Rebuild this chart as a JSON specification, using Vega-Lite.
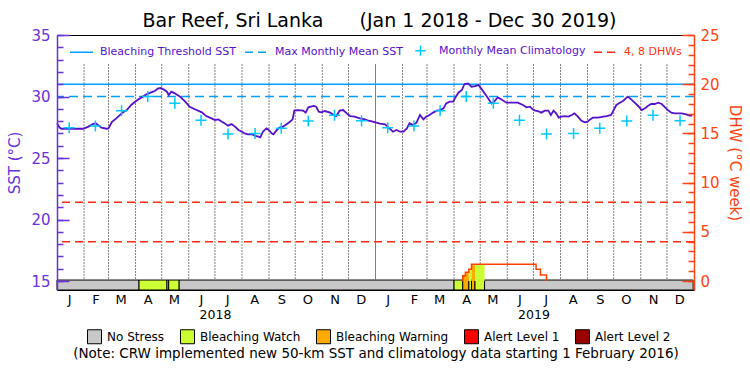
{
  "$schema": "https://vega.github.io/schema/vega-lite/v6.json",
  "width": 637,
  "height": 255,
  "autosize": "none",
  "padding": {"left": 57, "top": 35, "right": 56, "bottom": 85},
  "background": "white",
  "title": {
    "text": "Bar Reef, Sri Lanka\u00a0\u00a0\u00a0\u00a0\u00a0\u00a0(Jan 1 2018 - Dec 30 2019)",
    "font": "DejaVu Sans", "fontSize": 19, "fontWeight": "normal", "color": "black",
    "anchor": "middle", "offset": -3, "dx": 4
  },
  "config": {
    "font": "DejaVu Sans",
    "view": {"stroke": "black", "strokeWidth": 1},
    "axis": {"grid": false, "labelFont": "DejaVu Sans", "titleFont": "DejaVu Sans", "titleFontWeight": "normal", "labelOverlap": false},
    "axisX": {"labelOverlap": false, "labelFlush": false},
    "legend": {"labelFont": "DejaVu Sans"}
  },
  "datasets": {
    "sst": [
      {"date": "2018-01-01", "sst": 27.82}, {"date": "2018-01-04", "sst": 27.47}, {"date": "2018-01-06", "sst": 27.38},
      {"date": "2018-01-31", "sst": 27.38}, {"date": "2018-02-06", "sst": 27.55}, {"date": "2018-02-12", "sst": 27.79},
      {"date": "2018-02-15", "sst": 27.79}, {"date": "2018-02-21", "sst": 27.47}, {"date": "2018-02-27", "sst": 27.38},
      {"date": "2018-03-01", "sst": 27.40}, {"date": "2018-03-05", "sst": 27.95}, {"date": "2018-03-10", "sst": 28.22},
      {"date": "2018-03-16", "sst": 28.63}, {"date": "2018-03-22", "sst": 28.90}, {"date": "2018-03-27", "sst": 29.31},
      {"date": "2018-04-02", "sst": 29.66}, {"date": "2018-04-08", "sst": 29.93}, {"date": "2018-04-14", "sst": 30.20},
      {"date": "2018-04-19", "sst": 30.34}, {"date": "2018-04-23", "sst": 30.45}, {"date": "2018-04-27", "sst": 30.66},
      {"date": "2018-04-30", "sst": 30.69}, {"date": "2018-05-03", "sst": 30.58}, {"date": "2018-05-07", "sst": 30.39},
      {"date": "2018-05-09", "sst": 30.12}, {"date": "2018-05-12", "sst": 30.39}, {"date": "2018-05-16", "sst": 30.26},
      {"date": "2018-05-22", "sst": 29.99}, {"date": "2018-05-28", "sst": 29.58}, {"date": "2018-06-02", "sst": 29.17},
      {"date": "2018-06-08", "sst": 28.96}, {"date": "2018-06-16", "sst": 28.71}, {"date": "2018-06-21", "sst": 28.41},
      {"date": "2018-06-27", "sst": 28.22}, {"date": "2018-07-01", "sst": 28.09}, {"date": "2018-07-05", "sst": 28.14},
      {"date": "2018-07-09", "sst": 27.95}, {"date": "2018-07-12", "sst": 27.82}, {"date": "2018-07-16", "sst": 27.63},
      {"date": "2018-07-20", "sst": 27.76}, {"date": "2018-07-24", "sst": 27.55}, {"date": "2018-07-28", "sst": 27.28},
      {"date": "2018-08-01", "sst": 27.14}, {"date": "2018-08-04", "sst": 27.00}, {"date": "2018-08-08", "sst": 26.92},
      {"date": "2018-08-12", "sst": 26.95}, {"date": "2018-08-16", "sst": 26.79}, {"date": "2018-08-20", "sst": 26.73},
      {"date": "2018-08-22", "sst": 26.68}, {"date": "2018-08-25", "sst": 27.14}, {"date": "2018-08-29", "sst": 27.41},
      {"date": "2018-08-31", "sst": 27.33}, {"date": "2018-09-04", "sst": 27.00}, {"date": "2018-09-06", "sst": 26.92},
      {"date": "2018-09-10", "sst": 27.28}, {"date": "2018-09-13", "sst": 27.47}, {"date": "2018-09-17", "sst": 27.55},
      {"date": "2018-09-21", "sst": 27.74}, {"date": "2018-09-25", "sst": 27.95}, {"date": "2018-09-28", "sst": 28.14},
      {"date": "2018-09-30", "sst": 28.85}, {"date": "2018-10-04", "sst": 28.90}, {"date": "2018-10-10", "sst": 28.85},
      {"date": "2018-10-13", "sst": 28.69}, {"date": "2018-10-16", "sst": 29.12}, {"date": "2018-10-22", "sst": 29.23},
      {"date": "2018-10-25", "sst": 29.17}, {"date": "2018-10-28", "sst": 28.77}, {"date": "2018-10-31", "sst": 28.71},
      {"date": "2018-11-04", "sst": 28.82}, {"date": "2018-11-10", "sst": 28.69}, {"date": "2018-11-14", "sst": 28.50},
      {"date": "2018-11-17", "sst": 28.41}, {"date": "2018-11-21", "sst": 28.85}, {"date": "2018-11-25", "sst": 28.90},
      {"date": "2018-11-29", "sst": 28.63}, {"date": "2018-12-03", "sst": 28.41}, {"date": "2018-12-08", "sst": 28.36},
      {"date": "2018-12-14", "sst": 28.22}, {"date": "2018-12-20", "sst": 28.14}, {"date": "2018-12-24", "sst": 28.03},
      {"date": "2018-12-29", "sst": 27.95}, {"date": "2019-01-02", "sst": 27.87}, {"date": "2019-01-06", "sst": 27.80},
      {"date": "2019-01-12", "sst": 27.74}, {"date": "2019-01-17", "sst": 27.41}, {"date": "2019-01-21", "sst": 27.14},
      {"date": "2019-01-25", "sst": 27.28}, {"date": "2019-01-29", "sst": 27.14}, {"date": "2019-02-02", "sst": 27.14},
      {"date": "2019-02-06", "sst": 27.41}, {"date": "2019-02-09", "sst": 27.82}, {"date": "2019-02-13", "sst": 27.68},
      {"date": "2019-02-17", "sst": 27.87}, {"date": "2019-02-21", "sst": 28.50}, {"date": "2019-02-25", "sst": 28.14},
      {"date": "2019-02-28", "sst": 28.36}, {"date": "2019-03-04", "sst": 28.50}, {"date": "2019-03-08", "sst": 28.69},
      {"date": "2019-03-12", "sst": 28.85}, {"date": "2019-03-16", "sst": 28.90}, {"date": "2019-03-20", "sst": 29.04},
      {"date": "2019-03-23", "sst": 29.44}, {"date": "2019-03-27", "sst": 29.58}, {"date": "2019-03-31", "sst": 29.58},
      {"date": "2019-04-02", "sst": 29.85}, {"date": "2019-04-06", "sst": 30.31}, {"date": "2019-04-10", "sst": 30.53},
      {"date": "2019-04-13", "sst": 31.02}, {"date": "2019-04-17", "sst": 31.07}, {"date": "2019-04-21", "sst": 30.80},
      {"date": "2019-04-25", "sst": 30.85}, {"date": "2019-04-29", "sst": 30.93}, {"date": "2019-05-02", "sst": 30.66},
      {"date": "2019-05-06", "sst": 30.26}, {"date": "2019-05-10", "sst": 29.85}, {"date": "2019-05-14", "sst": 29.44},
      {"date": "2019-05-17", "sst": 29.58}, {"date": "2019-05-21", "sst": 29.93}, {"date": "2019-05-25", "sst": 29.77},
      {"date": "2019-05-31", "sst": 29.50}, {"date": "2019-06-06", "sst": 29.50}, {"date": "2019-06-13", "sst": 29.50},
      {"date": "2019-06-19", "sst": 29.31}, {"date": "2019-06-23", "sst": 29.12}, {"date": "2019-06-27", "sst": 29.17},
      {"date": "2019-06-30", "sst": 28.96}, {"date": "2019-07-03", "sst": 28.85}, {"date": "2019-07-06", "sst": 28.82},
      {"date": "2019-07-10", "sst": 28.69}, {"date": "2019-07-14", "sst": 28.85}, {"date": "2019-07-18", "sst": 28.85},
      {"date": "2019-07-21", "sst": 28.50}, {"date": "2019-07-24", "sst": 28.85}, {"date": "2019-07-27", "sst": 28.63},
      {"date": "2019-07-30", "sst": 28.28}, {"date": "2019-08-02", "sst": 28.36}, {"date": "2019-08-06", "sst": 28.41},
      {"date": "2019-08-10", "sst": 28.36}, {"date": "2019-08-14", "sst": 28.50}, {"date": "2019-08-17", "sst": 28.63},
      {"date": "2019-08-21", "sst": 28.36}, {"date": "2019-08-25", "sst": 28.03}, {"date": "2019-08-29", "sst": 27.90},
      {"date": "2019-09-01", "sst": 27.95}, {"date": "2019-09-04", "sst": 28.14}, {"date": "2019-09-07", "sst": 28.28},
      {"date": "2019-09-13", "sst": 28.28}, {"date": "2019-09-19", "sst": 28.36}, {"date": "2019-09-23", "sst": 28.41},
      {"date": "2019-09-28", "sst": 28.50}, {"date": "2019-09-30", "sst": 28.77}, {"date": "2019-10-04", "sst": 29.31},
      {"date": "2019-10-08", "sst": 29.50}, {"date": "2019-10-12", "sst": 29.66}, {"date": "2019-10-17", "sst": 29.99},
      {"date": "2019-10-21", "sst": 29.77}, {"date": "2019-10-25", "sst": 29.50}, {"date": "2019-10-29", "sst": 29.23},
      {"date": "2019-11-02", "sst": 28.90}, {"date": "2019-11-06", "sst": 29.04}, {"date": "2019-11-09", "sst": 29.23},
      {"date": "2019-11-13", "sst": 29.39}, {"date": "2019-11-17", "sst": 29.39}, {"date": "2019-11-21", "sst": 29.50},
      {"date": "2019-11-25", "sst": 29.39}, {"date": "2019-11-28", "sst": 29.17}, {"date": "2019-12-02", "sst": 28.90},
      {"date": "2019-12-06", "sst": 28.69}, {"date": "2019-12-10", "sst": 28.63}, {"date": "2019-12-18", "sst": 28.63},
      {"date": "2019-12-23", "sst": 28.55}, {"date": "2019-12-27", "sst": 28.44}, {"date": "2019-12-30", "sst": 28.44}
    ],
    "clim": [
      {"date": "2018-01-15", "sst": 27.45}, {"date": "2018-02-14", "sst": 27.60}, {"date": "2018-03-16", "sst": 28.85},
      {"date": "2018-04-15", "sst": 30.00}, {"date": "2018-05-16", "sst": 29.45}, {"date": "2018-06-15", "sst": 28.07},
      {"date": "2018-07-16", "sst": 26.95}, {"date": "2018-08-16", "sst": 27.00}, {"date": "2018-09-15", "sst": 27.41},
      {"date": "2018-10-16", "sst": 28.00}, {"date": "2018-11-15", "sst": 28.47}, {"date": "2018-12-16", "sst": 28.02},
      {"date": "2019-01-15", "sst": 27.45}, {"date": "2019-02-14", "sst": 27.60}, {"date": "2019-03-16", "sst": 28.85},
      {"date": "2019-04-15", "sst": 30.00}, {"date": "2019-05-16", "sst": 29.45}, {"date": "2019-06-15", "sst": 28.07},
      {"date": "2019-07-16", "sst": 26.95}, {"date": "2019-08-16", "sst": 27.00}, {"date": "2019-09-15", "sst": 27.41},
      {"date": "2019-10-16", "sst": 28.00}, {"date": "2019-11-15", "sst": 28.47}, {"date": "2019-12-16", "sst": 28.02}
    ],
    "thresholds": [
      {"series": "Bleaching Threshold SST", "sst": 31.0},
      {"series": "Max Monthly Mean SST", "sst": 30.0}
    ],
    "dhwlines": [
      {"series": "4, 8 DHWs", "dhw": 4},
      {"series": "4, 8 DHWs", "dhw": 8}
    ],
    "months": [
      {"date": "2018-02-01"}, {"date": "2018-03-01"}, {"date": "2018-04-01"}, {"date": "2018-05-01"},
      {"date": "2018-06-01"}, {"date": "2018-07-01"}, {"date": "2018-08-01"}, {"date": "2018-09-01"},
      {"date": "2018-10-01"}, {"date": "2018-11-01"}, {"date": "2018-12-01"},
      {"date": "2019-02-01"}, {"date": "2019-03-01"}, {"date": "2019-04-01"}, {"date": "2019-05-01"},
      {"date": "2019-06-01"}, {"date": "2019-07-01"}, {"date": "2019-08-01"}, {"date": "2019-09-01"},
      {"date": "2019-10-01"}, {"date": "2019-11-01"}, {"date": "2019-12-01"}
    ],
    "years": [{"date": "2019-01-01"}],
    "status": [
      {"start": "2018-01-01", "end": "2018-04-05", "status": "No Stress"},
      {"start": "2018-04-05", "end": "2018-05-07", "status": "Bleaching Watch"},
      {"start": "2018-05-07", "end": "2018-05-09", "status": "No Stress"},
      {"start": "2018-05-09", "end": "2018-05-21", "status": "Bleaching Watch"},
      {"start": "2018-05-21", "end": "2019-04-01", "status": "No Stress"},
      {"start": "2019-04-01", "end": "2019-04-11", "status": "Bleaching Watch"},
      {"start": "2019-04-11", "end": "2019-04-18", "status": "Bleaching Warning"},
      {"start": "2019-04-18", "end": "2019-04-21", "status": "Bleaching Watch"},
      {"start": "2019-04-21", "end": "2019-04-25", "status": "Bleaching Warning"},
      {"start": "2019-04-25", "end": "2019-05-06", "status": "Bleaching Watch"},
      {"start": "2019-05-06", "end": "2019-12-31", "status": "No Stress"}
    ],
    "dhwfill": [
      {"start": "2019-04-11", "end": "2019-04-14", "dhw": 0.54, "status": "Bleaching Warning"},
      {"start": "2019-04-14", "end": "2019-04-18", "dhw": 0.88, "status": "Bleaching Warning"},
      {"start": "2019-04-18", "end": "2019-04-21", "dhw": 1.19, "status": "Bleaching Watch"},
      {"start": "2019-04-21", "end": "2019-04-25", "dhw": 1.69, "status": "Bleaching Warning"},
      {"start": "2019-04-25", "end": "2019-05-06", "dhw": 1.69, "status": "Bleaching Watch"}
    ],
    "dhw": [
      {"date": "2019-04-11", "dhw": 0}, {"date": "2019-04-11", "dhw": 0.54}, {"date": "2019-04-14", "dhw": 0.88},
      {"date": "2019-04-18", "dhw": 1.19}, {"date": "2019-04-21", "dhw": 1.69}, {"date": "2019-07-04", "dhw": 1.19},
      {"date": "2019-07-09", "dhw": 0.61}, {"date": "2019-07-16", "dhw": 0}
    ]
  },
  "layer": [
    {
      "layer": [
        {
          "data": {"name": "status"},
          "mark": {"type": "rect", "stroke": "black", "strokeWidth": 1},
          "encoding": {
            "x": {"field": "start", "type": "temporal",
                  "scale": {"type": "utc", "domain": [{"year": 2018, "month": 1, "date": 1, "utc": true}, {"year": 2020, "month": 1, "date": 1, "utc": true}]}},
            "x2": {"field": "end"},
            "y": {"datum": 15.08, "type": "quantitative", "axis": null, "scale": {"domain": [14.27, 35], "nice": false, "zero": false}},
            "y2": {"datum": 14.27},
            "fill": {"field": "status", "type": "nominal",
                     "scale": {"domain": ["No Stress", "Bleaching Watch", "Bleaching Warning", "Alert Level 1", "Alert Level 2"],
                               "range": ["#c8c8c8", "#ccff33", "#ffaa00", "#ff0000", "#990000"]},
                     "legend": {"orient": "none", "legendX": 30, "legendY": 294, "direction": "horizontal", "title": null,
                                "symbolType": "square", "symbolSize": 196, "symbolStrokeColor": "black", "symbolStrokeWidth": 1,
                                "symbolOpacity": 1, "labelFontSize": 12, "labelColor": "black", "labelOffset": 5,
                                "columnPadding": 13, "padding": 0, "labelLimit": 300}}
          }
        },
        {
          "data": {"name": "months"},
          "mark": {"type": "rule", "color": "black", "strokeDash": [1, 2], "strokeWidth": 1},
          "encoding": {
            "x": {"field": "date", "type": "temporal",
                  "scale": {"type": "utc", "domain": [{"year": 2018, "month": 1, "date": 1, "utc": true}, {"year": 2020, "month": 1, "date": 1, "utc": true}]}},
            "y": {"datum": 32.6, "type": "quantitative", "axis": null, "scale": {"domain": [14.27, 35], "nice": false, "zero": false}},
            "y2": {"datum": 15.15}
          }
        },
        {
          "data": {"name": "years"},
          "mark": {"type": "rule", "color": "black", "strokeDash": [1, 1], "strokeWidth": 1},
          "encoding": {
            "x": {"field": "date", "type": "temporal",
                  "scale": {"type": "utc", "domain": [{"year": 2018, "month": 1, "date": 1, "utc": true}, {"year": 2020, "month": 1, "date": 1, "utc": true}]}},
            "y": {"datum": 32.6, "type": "quantitative", "axis": null, "scale": {"domain": [14.27, 35], "nice": false, "zero": false}},
            "y2": {"datum": 15.15}
          }
        },
        {
          "data": {"name": "thresholds"},
          "transform": [{"filter": "datum.series === 'Bleaching Threshold SST'"}],
          "mark": {"type": "rule", "strokeWidth": 1.5},
          "encoding": {
            "y": {"field": "sst", "type": "quantitative", "axis": null, "scale": {"domain": [14.27, 35], "nice": false, "zero": false}},
            "stroke": {"field": "series", "type": "nominal",
                       "scale": {"domain": ["Bleaching Threshold SST", "Max Monthly Mean SST", "Monthly Mean Climatology", "4, 8 DHWs"],
                                 "range": ["#00a0ff", "#00a0ff", "#00c8ff", "#ff2a1a"]},
                       "legend": {"orient": "none", "legendX": 12, "legendY": 3, "direction": "horizontal", "title": null,
                                  "symbolType": "stroke", "symbolSize": 529, "symbolStrokeWidth": 1.5,
                                  "labelFontSize": 11, "labelOffset": 6, "columnPadding": 5, "padding": 0, "labelLimit": 300,
                                  "encode": {
                                    "symbols": {"update": {
                                      "shape": {"signal": "datum.value === 'Monthly Mean Climatology' ? 'M-0.45,0H0.45M0,-0.45V0.45' : 'stroke'"},
                                      "strokeDash": {"signal": "(datum.value === 'Max Monthly Mean SST' || datum.value === '4, 8 DHWs') ? [8, 5] : [1, 0]"},
                                      "strokeWidth": {"value": 1.5}
                                    }},
                                    "labels": {"update": {
                                      "fill": {"signal": "datum.value === '4, 8 DHWs' ? '#ff3311' : '#5511cc'"}
                                    }}
                                  }}}
          }
        },
        {
          "data": {"name": "thresholds"},
          "transform": [{"filter": "datum.series === 'Max Monthly Mean SST'"}],
          "mark": {"type": "rule", "strokeWidth": 1.5, "strokeDash": [9, 5]},
          "encoding": {
            "y": {"field": "sst", "type": "quantitative", "axis": null, "scale": {"domain": [14.27, 35], "nice": false, "zero": false}},
            "stroke": {"field": "series", "type": "nominal", "legend": null,
                       "scale": {"domain": ["Bleaching Threshold SST", "Max Monthly Mean SST", "Monthly Mean Climatology", "4, 8 DHWs"],
                                 "range": ["#00a0ff", "#00a0ff", "#00c8ff", "#ff2a1a"]}}
          }
        },
        {
          "data": {"name": "sst"},
          "mark": {"type": "line", "color": "#5511cc", "strokeWidth": 1.8},
          "encoding": {
            "x": {"field": "date", "type": "temporal",
                  "scale": {"type": "utc", "domain": [{"year": 2018, "month": 1, "date": 1, "utc": true}, {"year": 2020, "month": 1, "date": 1, "utc": true}]},
                  "axis": {"orient": "bottom", "title": null, "ticks": false, "domain": false, "grid": false, "tickCount": 40,
                           "values": [
                             {"year": 2018, "month": 1, "date": 15, "utc": true}, {"year": 2018, "month": 2, "date": 14, "utc": true},
                             {"year": 2018, "month": 3, "date": 15, "utc": true}, {"year": 2018, "month": 4, "date": 15, "utc": true},
                             {"year": 2018, "month": 5, "date": 15, "utc": true}, {"year": 2018, "month": 6, "date": 15, "utc": true},
                             {"year": 2018, "month": 7, "date": 15, "utc": true}, {"year": 2018, "month": 8, "date": 15, "utc": true},
                             {"year": 2018, "month": 9, "date": 15, "utc": true}, {"year": 2018, "month": 10, "date": 15, "utc": true},
                             {"year": 2018, "month": 11, "date": 15, "utc": true}, {"year": 2018, "month": 12, "date": 15, "utc": true},
                             {"year": 2019, "month": 1, "date": 15, "utc": true}, {"year": 2019, "month": 2, "date": 14, "utc": true},
                             {"year": 2019, "month": 3, "date": 15, "utc": true}, {"year": 2019, "month": 4, "date": 15, "utc": true},
                             {"year": 2019, "month": 5, "date": 15, "utc": true}, {"year": 2019, "month": 6, "date": 15, "utc": true},
                             {"year": 2019, "month": 7, "date": 15, "utc": true}, {"year": 2019, "month": 8, "date": 15, "utc": true},
                             {"year": 2019, "month": 9, "date": 15, "utc": true}, {"year": 2019, "month": 10, "date": 15, "utc": true},
                             {"year": 2019, "month": 11, "date": 15, "utc": true}, {"year": 2019, "month": 12, "date": 15, "utc": true}
                           ],
                           "labelExpr": "substring(utcFormat(datum.value, '%b'), 0, 1)",
                           "labelFontSize": 13, "labelColor": "black", "labelPadding": 3,
                           "labelFlush": false, "labelOverlap": false, "labelBound": false}},
            "y": {"field": "sst", "type": "quantitative", "scale": {"domain": [14.27, 35], "nice": false, "zero": false},
                  "axis": {"orient": "left", "values": [15, 20, 25, 30, 35], "tickCount": 40, "format": "d", "tickSize": -12, "tickColor": "#6633dd", "tickWidth": 1.5,
                           "domainColor": "#6633dd", "domainWidth": 1.5, "labelColor": "#6633dd", "labelFontSize": 15,
                           "labelPadding": 19, "labelFlush": false, "title": "SST (°C)", "titleColor": "#6633dd",
                           "titleFontSize": 15, "titleFontWeight": "normal", "titlePadding": 8, "zindex": 1, "grid": false}}
          }
        },
        {
          "data": {"name": "clim"},
          "mark": {"type": "point", "shape": "M-1,0H1M0,-1V1", "size": 121, "filled": false, "strokeWidth": 1.5, "opacity": 1},
          "encoding": {
            "x": {"field": "date", "type": "temporal",
                  "scale": {"type": "utc", "domain": [{"year": 2018, "month": 1, "date": 1, "utc": true}, {"year": 2020, "month": 1, "date": 1, "utc": true}]}},
            "y": {"field": "sst", "type": "quantitative", "scale": {"domain": [14.27, 35], "nice": false, "zero": false},
                  "axis": {"orient": "left", "values": [15, 16, 17, 18, 19, 20, 21, 22, 23, 24, 25, 26, 27, 28, 29, 30, 31, 32, 33, 34, 35],
                           "tickCount": 40, "tickSize": -6, "tickColor": "#6633dd", "tickWidth": 1.5, "labels": false, "domain": false,
                           "title": null, "zindex": 1, "grid": false}},
            "stroke": {"datum": "Monthly Mean Climatology", "type": "nominal", "legend": null,
                       "scale": {"domain": ["Bleaching Threshold SST", "Max Monthly Mean SST", "Monthly Mean Climatology", "4, 8 DHWs"],
                                 "range": ["#00a0ff", "#00a0ff", "#00c8ff", "#ff2a1a"]}}
          }
        }
      ],
      "resolve": {"axis": {"y": "independent"}}
    },
    {
      "layer": [
        {
          "data": {"name": "dhwfill"},
          "mark": {"type": "rect"},
          "encoding": {
            "x": {"field": "start", "type": "temporal",
                  "scale": {"type": "utc", "domain": [{"year": 2018, "month": 1, "date": 1, "utc": true}, {"year": 2020, "month": 1, "date": 1, "utc": true}]}},
            "x2": {"field": "end"},
            "y": {"field": "dhw", "type": "quantitative", "scale": {"domain": [-0.9146, 25], "nice": false, "zero": false},
                  "axis": {"orient": "right", "values": [0, 1, 2, 3, 4, 5, 6, 7, 8, 9, 10, 11, 12, 13, 14, 15, 16, 17, 18, 19, 20, 21, 22, 23, 24, 25],
                           "tickCount": 40, "tickSize": -6, "tickColor": "#ff4411", "tickWidth": 1.5, "labels": false, "domain": false,
                           "title": null, "zindex": 1, "grid": false}},
            "y2": {"datum": 0},
            "fill": {"field": "status", "type": "nominal", "legend": null,
                     "scale": {"domain": ["No Stress", "Bleaching Watch", "Bleaching Warning", "Alert Level 1", "Alert Level 2"],
                               "range": ["#c8c8c8", "#ccff33", "#ffaa00", "#ff0000", "#990000"]}}
          }
        },
        {
          "data": {"name": "dhwlines"},
          "mark": {"type": "rule", "strokeWidth": 1.5, "strokeDash": [8, 5]},
          "encoding": {
            "y": {"field": "dhw", "type": "quantitative", "scale": {"domain": [-0.9146, 25], "nice": false, "zero": false},
                  "axis": {"orient": "right", "values": [0, 5, 10, 15, 20, 25], "tickCount": 40, "format": "d", "tickSize": -12, "tickColor": "#ff4411", "tickWidth": 1.5,
                           "domainColor": "#ff4411", "domainWidth": 1.5, "labelColor": "#ff4411", "labelFontSize": 15,
                           "labelPadding": 18, "labelFlush": false, "title": "DHW (°C week)", "titleColor": "#ff4411",
                           "titleFontSize": 15, "titleFontWeight": "normal", "titlePadding": 7, "zindex": 1, "grid": false}},
            "stroke": {"field": "series", "type": "nominal", "legend": null,
                       "scale": {"domain": ["Bleaching Threshold SST", "Max Monthly Mean SST", "Monthly Mean Climatology", "4, 8 DHWs"],
                                 "range": ["#00a0ff", "#00a0ff", "#00c8ff", "#ff2a1a"]}}
          }
        },
        {
          "data": {"name": "dhw"},
          "mark": {"type": "line", "interpolate": "step-after", "color": "#ff4000", "strokeWidth": 1.5},
          "encoding": {
            "x": {"field": "date", "type": "temporal",
                  "scale": {"type": "utc", "domain": [{"year": 2018, "month": 1, "date": 1, "utc": true}, {"year": 2020, "month": 1, "date": 1, "utc": true}]},
                  "axis": {"orient": "bottom", "ticks": false, "domain": false, "grid": false, "tickCount": 40,
                           "values": [{"year": 2018, "month": 7, "date": 1, "utc": true}, {"year": 2019, "month": 7, "date": 1, "utc": true}],
                           "labelExpr": "utcFormat(datum.value, '%Y')", "labelFontSize": 12.5, "labelColor": "black",
                           "labelPadding": 18, "labelFlush": false, "labelOverlap": false,
                           "title": "(Note: CRW implemented new 50-km SST and climatology data starting 1 February 2016)",
                           "titleFontSize": 13.5, "titleColor": "black", "titleFontWeight": "normal", "titlePadding": 26}},
            "y": {"field": "dhw", "type": "quantitative", "axis": null, "scale": {"domain": [-0.9146, 25], "nice": false, "zero": false}},
            "order": {"value": null}
          }
        }
      ],
      "resolve": {"axis": {"y": "independent"}}
    }
  ],
  "resolve": {"scale": {"y": "independent"}, "axis": {"x": "independent", "y": "independent"}}
}
